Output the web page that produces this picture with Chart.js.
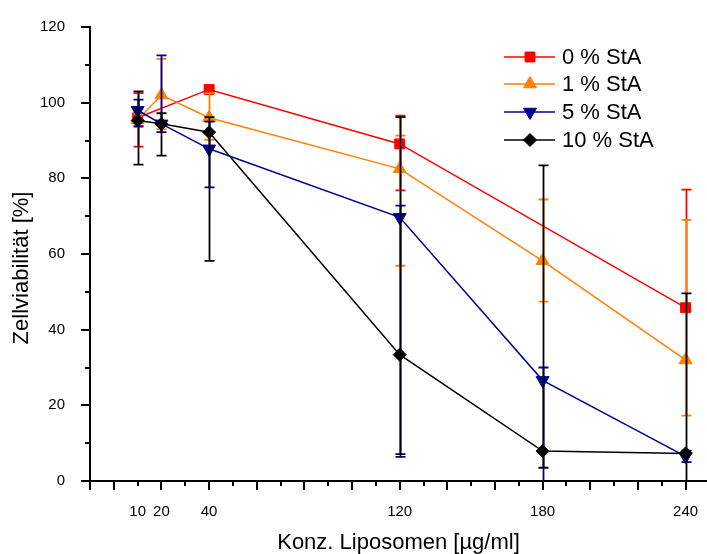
<!DOCTYPE html>
<html>
<head>
<meta charset="utf-8">
<script src="https://cdn.jsdelivr.net/npm/chart.js@4.4.1/dist/chart.umd.min.js"></script>
<style>
  html, body { margin: 0; padding: 0; background: #fff; }
  #wrap { width: 707px; height: 554px; }
</style>
</head>
<body>
<div id="wrap"><canvas id="c" width="707" height="554"></canvas></div>
<script>
// Konzentrationen (x) und Zellviabilität je StA-Anteil; null = kein Messpunkt
const concentrations = [10, 20, 40, 120, 180, 240];
const xTickLabels = [10, 20, 40, 120, 180, 240];

const seriesLabels = ['0 % StA', '1 % StA', '5 % StA', '10 % StA'];

const sta0   = [96.0, null, 103.5, 89.1, null, 45.8];
const sta0Hi = [102.5, null, 104.0, 96.6, null, 77.0];
const sta0Lo = [88.4, null, 103.0, 76.8, null, 45.0];

const sta1   = [95.5, 102.0, 96.0, 82.5, 58.2, 32.0];
const sta1Hi = [97.0, 111.6, 102.5, 91.3, 74.4, 69.0];
const sta1Lo = [94.0, 93.0, 90.2, 56.9, 47.4, 17.3];

const sta5   = [98.0, 94.4, 87.8, 69.7, 26.6, 6.5];
const sta5Hi = [100.8, 112.5, 95.0, 72.8, 30.0, 8.0];
const sta5Lo = [93.7, 92.2, 77.6, 6.4, -5.0, 5.0];

const sta10   = [95.3, 94.4, 92.2, 33.4, 7.9, 7.3];
const sta10Hi = [103.0, 97.2, 96.2, 96.2, 83.4, 49.6];
const sta10Lo = [83.6, 86.0, 58.2, 7.1, 3.5, -3.0];

const FONT = "'Liberation Sans', Arial, sans-serif";

const styles = [
  { color: '#ff0000', pointStyle: 'rect', radius: 7, rotation: 0, order: 3 },
  { color: '#ff8000', pointStyle: 'triangle', radius: 7.5, rotation: 0, order: 2 },
  { color: '#000090', pointStyle: 'triangle', radius: 7.5, rotation: 180, order: 1 },
  { color: '#000000', pointStyle: 'rectRot', radius: 6.5, rotation: 0, order: 0 },
];

const values = [sta0, sta1, sta5, sta10];
const highs = [sta0Hi, sta1Hi, sta5Hi, sta10Hi];
const lows = [sta0Lo, sta1Lo, sta5Lo, sta10Lo];

function points(arr) {
  return concentrations.map((x, i) => ({ x, y: arr[i] })).filter(p => p.y !== null);
}

const datasets = values.map((v, i) => ({
  label: seriesLabels[i],
  data: points(v),
  errHi: highs[i],
  errLo: lows[i],
  borderColor: styles[i].color,
  backgroundColor: styles[i].color,
  borderWidth: 1.5,
  pointStyle: styles[i].pointStyle,
  pointRadius: styles[i].radius,
  pointRotation: styles[i].rotation,
  pointBorderWidth: 1,
  pointBackgroundColor: styles[i].color,
  pointBorderColor: styles[i].color,
  tension: 0,
  order: styles[i].order,
  fill: false,
  clip: 10,
}));

// Fehlerbalken direkt nach dem jeweiligen Datensatz zeichnen (Origin-Reihenfolge)
const errorBars = {
  id: 'errorBars',
  afterDatasetDraw(chart, args) {
    const ds = chart.data.datasets[args.index];
    const { ctx, chartArea: a, scales: { x, y } } = chart;
    ctx.save();
    ctx.beginPath();
    ctx.rect(a.left, a.top - 2, a.right - a.left, a.bottom - a.top + 2);
    ctx.clip();
    ctx.strokeStyle = ds.borderColor;
    ctx.lineWidth = 1.8;
    ctx.beginPath();
    concentrations.forEach((c, i) => {
      if (ds.errHi[i] === null) return;
      const px = Math.round(x.getPixelForValue(c)) + 0.5;
      const yh = y.getPixelForValue(ds.errHi[i]);
      const yl = y.getPixelForValue(ds.errLo[i]);
      ctx.moveTo(px, yh); ctx.lineTo(px, yl);
      ctx.moveTo(px - 5, yh); ctx.lineTo(px + 5, yh);
      ctx.moveTo(px - 5, yl); ctx.lineTo(px + 5, yl);
    });
    ctx.stroke();
    ctx.restore();
  },
};

// Haupt- und Nebenstriche nach außen
const axisTicks = {
  id: 'axisTicks',
  afterDraw(chart) {
    const { ctx, chartArea: a, scales: { x, y } } = chart;
    ctx.save();
    ctx.strokeStyle = '#000';
    ctx.lineWidth = 2;
    ctx.beginPath();
    for (let v = -10; v <= 240; v += 10) {
      const px = Math.round(x.getPixelForValue(v));
      const len = (v % 20 === 0 || v === -10) ? 9 : 5;
      ctx.moveTo(px, a.bottom); ctx.lineTo(px, a.bottom + len);
    }
    for (let v = 0; v <= 120; v += 10) {
      const py = Math.round(y.getPixelForValue(v));
      const len = v % 20 === 0 ? 9 : 5;
      ctx.moveTo(a.left, py); ctx.lineTo(a.left - len, py);
    }
    ctx.stroke();
    ctx.restore();
  },
};

// Legende: Linie mit Symbol in der Mitte
const lineLegend = {
  id: 'lineLegend',
  afterDraw(chart) {
    const ctx = chart.ctx;
    const rows = [57, 84, 112, 140];
    ctx.save();
    chart.data.datasets.forEach((ds, i) => {
      const yy = rows[i];
      ctx.strokeStyle = ds.borderColor;
      ctx.lineWidth = 1.5;
      ctx.beginPath();
      ctx.moveTo(504, yy); ctx.lineTo(555, yy);
      ctx.stroke();
      ctx.fillStyle = ds.borderColor;
      ctx.strokeStyle = ds.borderColor;
      ctx.lineWidth = 1;
      Chart.helpers.drawPoint(ctx, {
        pointStyle: ds.pointStyle, radius: ds.pointRadius, rotation: ds.pointRotation, borderWidth: 1,
      }, 530, yy);
      ctx.fillStyle = '#000';
      ctx.font = '22px ' + FONT;
      ctx.textAlign = 'left';
      ctx.textBaseline = 'middle';
      ctx.fillText(ds.label, 562, yy + 1);
    });
    ctx.restore();
  },
};

const yTitle = {
  id: 'yTitle',
  afterDraw(chart) {
    const ctx = chart.ctx;
    ctx.save();
    ctx.translate(22, 268);
    ctx.rotate(-Math.PI / 2);
    ctx.fillStyle = '#000';
    ctx.font = '22px ' + FONT;
    ctx.textAlign = 'center';
    ctx.textBaseline = 'middle';
    ctx.fillText('Zellviabilität [%]', 0, 0);
    ctx.restore();
  },
};

new Chart(document.getElementById('c'), {
  type: 'line',
  data: { datasets },
  plugins: [errorBars, axisTicks, lineLegend, yTitle],
  options: {
    responsive: false,
    animation: false,
    devicePixelRatio: 1,
    layout: { autoPadding: false, padding: { top: 27, right: 0, bottom: 0, left: 0 } },
    plugins: { legend: { display: false }, tooltip: { enabled: false } },
    scales: {
      x: {
        type: 'linear',
        min: -10,
        max: 249,
        grid: { display: false },
        border: { display: true, color: '#000', width: 2 },
        afterBuildTicks: (s) => {
          const t = [];
          for (let v = -10; v <= 240; v += 10) t.push({ value: v });
          s.ticks = t;
        },
        afterFit: (s) => { s.height = 73; s.paddingLeft = 0; s.paddingRight = 0; },
        ticks: {
          autoSkip: false, maxRotation: 0, color: '#000', padding: 14,
          font: { family: FONT, size: 15 },
          callback: (v) => (xTickLabels.includes(v) ? String(v) : ''),
        },
        title: {
          display: true, text: 'Konz. Liposomen [µg/ml]', color: '#000',
          font: { family: FONT, size: 22 }, padding: { top: 0, bottom: -2 },
        },
      },
      y: {
        min: 0,
        max: 120,
        grid: { display: false },
        border: { display: true, color: '#000', width: 2 },
        afterBuildTicks: (s) => {
          const t = [];
          for (let v = 0; v <= 120; v += 10) t.push({ value: v });
          s.ticks = t;
        },
        afterFit: (s) => { s.width = 90; s.paddingTop = 0; s.paddingBottom = 0; },
        ticks: {
          color: '#000', padding: 17,
          font: { family: FONT, size: 15 },
          callback: (v) => (v % 20 === 0 ? String(v) : ''),
        },
      },
    },
  },
});
</script>
</body>
</html>
